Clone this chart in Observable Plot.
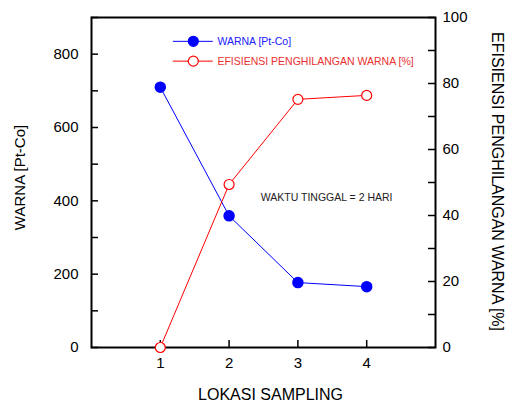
<!DOCTYPE html>
<html>
<head>
<meta charset="utf-8">
<script src="https://cdn.jsdelivr.net/npm/d3@7"></script>
<script src="https://cdn.jsdelivr.net/npm/@observablehq/plot@0.6"></script>
<style>
  html, body { margin: 0; padding: 0; background: #fff; }
  #chart svg { font-family: "Liberation Sans", Arial, sans-serif; }
</style>
</head>
<body>
<div id="chart"></div>
<script>
// Data
const lokasi = [1, 2, 3, 4];
const warna = [710, 359, 177, 166];           // Pt-Co (left axis)
const efisiensi = [0, 49.4, 75.2, 76.4];      // % (right axis)
const leftTicks = [0, 200, 400, 600, 800];
const leftMinor = [0, 100, 200, 300, 400, 500, 600, 700, 800, 900];
const rightTicks = [0, 20, 40, 60, 80, 100];
const rightMinor = [0, 10, 20, 30, 40, 50, 60, 70, 80, 90, 100];
const xTicks = [1, 2, 3, 4];
const legendLabels = ["WARNA [Pt-Co]", "EFISIENSI PENGHILANGAN WARNA [%]"];
const annotation = "WAKTU TINGGAL = 2 HARI";

// right axis (0..100) mapped onto the left scale (0..900)
const k = 900 / 100;
const rows = lokasi.map((x, i) => ({x, warna: warna[i], eff: efisiensi[i] * k}));
const legendRows = [
  {label: legendLabels[0], y: 835, color: "#0000ff", fill: "#0000ff", text: "#2020ff"},
  {label: legendLabels[1], y: 781, color: "#ff0000", fill: "white", text: "#e83030"}
];

const W = 505, H = 403, mL = 91, mR = 70, mT = 17, mB = 56;
const frameW = W - mL - mR, frameH = H - mT - mB;
const tickLen = 7;

const chart = Plot.plot({
  width: W,
  height: H,
  marginLeft: mL,
  marginRight: mR,
  marginTop: mT,
  marginBottom: mB,
  style: {fontFamily: "Liberation Sans, Arial, sans-serif", background: "white"},
  x: {domain: [0, 5]},
  y: {domain: [0, 900]},
  marks: [
    Plot.frame({stroke: "black", fill: "none", strokeWidth: 2}),
    // left axis
    Plot.axisY({anchor: "left", ticks: leftTicks, tickSize: 0, tickPadding: 13, fontSize: 15, label: null, color: "black"}),
    Plot.tickY(leftMinor, {y: d => d, insetRight: frameW - tickLen, stroke: "black", strokeWidth: 1.5}),
    // right axis
    Plot.axisY({anchor: "right", ticks: rightTicks.map(d => d * k), tickFormat: d => Math.round(d / k), tickSize: 0, tickPadding: 7, fontSize: 15, label: null}),
    Plot.tickY(rightMinor, {y: d => d * k, insetLeft: frameW - tickLen, stroke: "black", strokeWidth: 1.5}),
    // x axis
    Plot.axisX({ticks: xTicks, tickFormat: d3.format("d"), tickSize: 0, tickPadding: 10, fontSize: 15, label: null}),
    Plot.tickX(xTicks, {x: d => d, insetTop: frameH - tickLen, stroke: "black", strokeWidth: 1.5}),
    // axis titles
    Plot.text(["WARNA [Pt-Co]"], {frameAnchor: "left", textAnchor: "middle", lineAnchor: "middle", dx: -71, dy: -5, rotate: -90, fontSize: 15, fill: "black"}),
    Plot.text(["EFISIENSI PENGHILANGAN WARNA [%]"], {frameAnchor: "right", textAnchor: "middle", lineAnchor: "middle", dx: 62, dy: -1, rotate: 90, fontSize: 16, fill: "black"}),
    Plot.text(["LOKASI SAMPLING"], {frameAnchor: "bottom", textAnchor: "middle", lineAnchor: "middle", dy: 47, dx: 7, fontSize: 16, fill: "black"}),
    // series
    Plot.line(rows, {x: "x", y: "warna", stroke: "#0000ff", strokeWidth: 1}),
    Plot.dot(rows, {x: "x", y: "warna", r: 5, fill: "#0000ff", stroke: "#0000ff"}),
    Plot.line(rows, {x: "x", y: "eff", stroke: "#ff0000", strokeWidth: 1}),
    Plot.dot(rows, {x: "x", y: "eff", r: 5, fill: "white", stroke: "#ff0000", strokeWidth: 1.2}),
    // legend
    Plot.ruleY(legendRows, {y: "y", x1: 1.19, x2: 1.77, stroke: "color", strokeWidth: 1}),
    Plot.dot(legendRows, {x: 1.48, y: "y", r: 5, fill: "fill", stroke: "color", strokeWidth: 1.2}),
    Plot.text(legendRows, {x: 1.83, y: "y", text: "label", fill: "text", textAnchor: "start", fontSize: 10.5}),
    // annotation
    Plot.text([annotation], {x: 2.46, y: 408, textAnchor: "start", fontSize: 10.5, fill: "#222"})
  ]
});
document.getElementById("chart").appendChild(chart);
</script>
</body>
</html>
